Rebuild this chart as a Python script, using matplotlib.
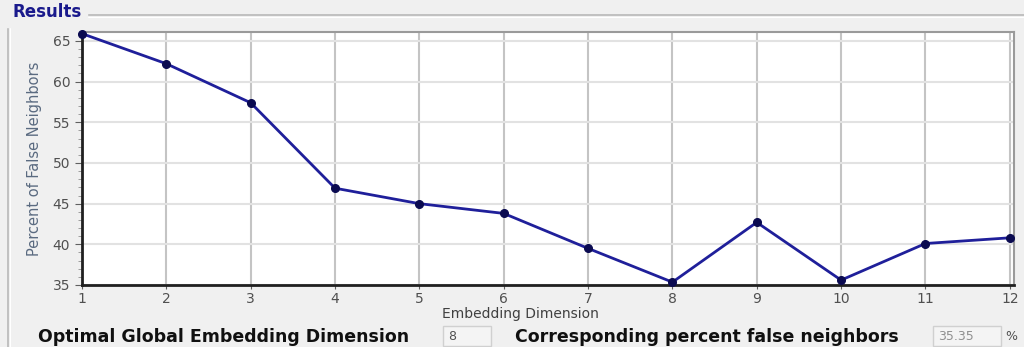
import matplotlib.pyplot as plt
from matplotlib.lines import Line2D
from matplotlib.patches import Rectangle
from matplotlib.ticker import MultipleLocator

# data
dims = [1, 2, 3, 4, 5, 6, 7, 8, 9, 10, 11, 12]
pct_false = [65.9, 62.2, 57.4, 46.9, 45.0, 43.8, 39.5, 35.35, 42.7, 35.6, 40.1, 40.8]
y_ticks = [35, 40, 45, 50, 55, 60, 65]
optimal_dim = "8"
optimal_pct = "35.35"

W, H = 1024, 347
fig = plt.figure(figsize=(W / 100, H / 100), dpi=100, facecolor="#f0f0f0")

def fx(px):
    return px / W

def fy(py):
    return 1 - py / H

# group box "Results"
fig.add_artist(Line2D([fx(8), fx(1024)], [fy(15), fy(15)], color="#b8b8b8", lw=1.2))
fig.add_artist(Line2D([fx(8), fx(1024)], [fy(16.5), fy(16.5)], color="white", lw=0.8))
fig.add_artist(Line2D([fx(8), fx(8)], [fy(15), fy(347)], color="#b8b8b8", lw=1.2))
fig.add_artist(Line2D([fx(9.5), fx(9.5)], [fy(16.5), fy(347)], color="white", lw=0.8))
fig.text(fx(12), fy(12), "Results", color="#1a1a8c", fontsize=12, fontweight="bold",
         va="center", ha="left", backgroundcolor="#f0f0f0")

# plot area
ax = fig.add_axes([fx(82), fy(285), fx(1014) - fx(82), fy(32) - fy(285)])
ax.set_facecolor("white")
ax.plot(dims, pct_false, color="#1f1f9a", lw=2, marker="o", ms=5.5,
        mfc="#0a0a50", mec="#0a0a50", zorder=3, clip_on=False)

ax.set_xlim(1, 12.05)
ax.set_ylim(35, 66.1)
ax.set_xticks(dims)
ax.set_yticks(y_ticks)
ax.yaxis.set_minor_locator(MultipleLocator(1))
ax.grid(axis="x", color="#c4c4c4", lw=1.5)
ax.grid(axis="y", color="#e2e2e2", lw=1.5)
ax.set_axisbelow(True)

for side in ["top", "right"]:
    ax.spines[side].set_color("#9a9a9a")
    ax.spines[side].set_linewidth(1.5)
for side in ["left", "bottom"]:
    ax.spines[side].set_color("#202020")
    ax.spines[side].set_linewidth(2)

ax.tick_params(axis="both", labelsize=10, labelcolor="#505050", color="#606060")
ax.tick_params(axis="y", which="major", length=5)
ax.tick_params(axis="y", which="minor", length=3, color="#909090")
ax.tick_params(axis="x", length=3, pad=2)

ax.set_xlabel("Embedding Dimension", fontsize=10, color="#404040")
ax.xaxis.set_label_coords((520 - 82) / (1014 - 82), -0.088)
ax.set_ylabel("Percent of False Neighbors", fontsize=10.5, color="#5a6a80")
ax.yaxis.set_label_coords(-(82 - 42) / (1014 - 82), 0.5)

# bottom row of fields
fig.text(fx(38), fy(337), "Optimal Global Embedding Dimension", fontsize=12.5,
         fontweight="bold", color="#101010", va="center", ha="left")
fig.add_artist(Rectangle((fx(443), fy(346)), fx(48), fy(326) - fy(346),
                         transform=fig.transFigure, fc="#f4f4f4", ec="#d0d0d0", lw=1))
fig.text(fx(448), fy(336), optimal_dim, fontsize=9, color="#505050", va="center", ha="left")
fig.text(fx(515), fy(337), "Corresponding percent false neighbors", fontsize=12.5,
         fontweight="bold", color="#101010", va="center", ha="left")
fig.add_artist(Rectangle((fx(933), fy(346)), fx(68), fy(326) - fy(346),
                         transform=fig.transFigure, fc="#f4f4f4", ec="#d0d0d0", lw=1))
fig.text(fx(938), fy(336), optimal_pct, fontsize=9, color="#909090", va="center", ha="left")
fig.text(fx(1005), fy(336), "%", fontsize=9, color="#505050", va="center", ha="left")

fig.savefig("out.png", dpi=100, facecolor=fig.get_facecolor())
